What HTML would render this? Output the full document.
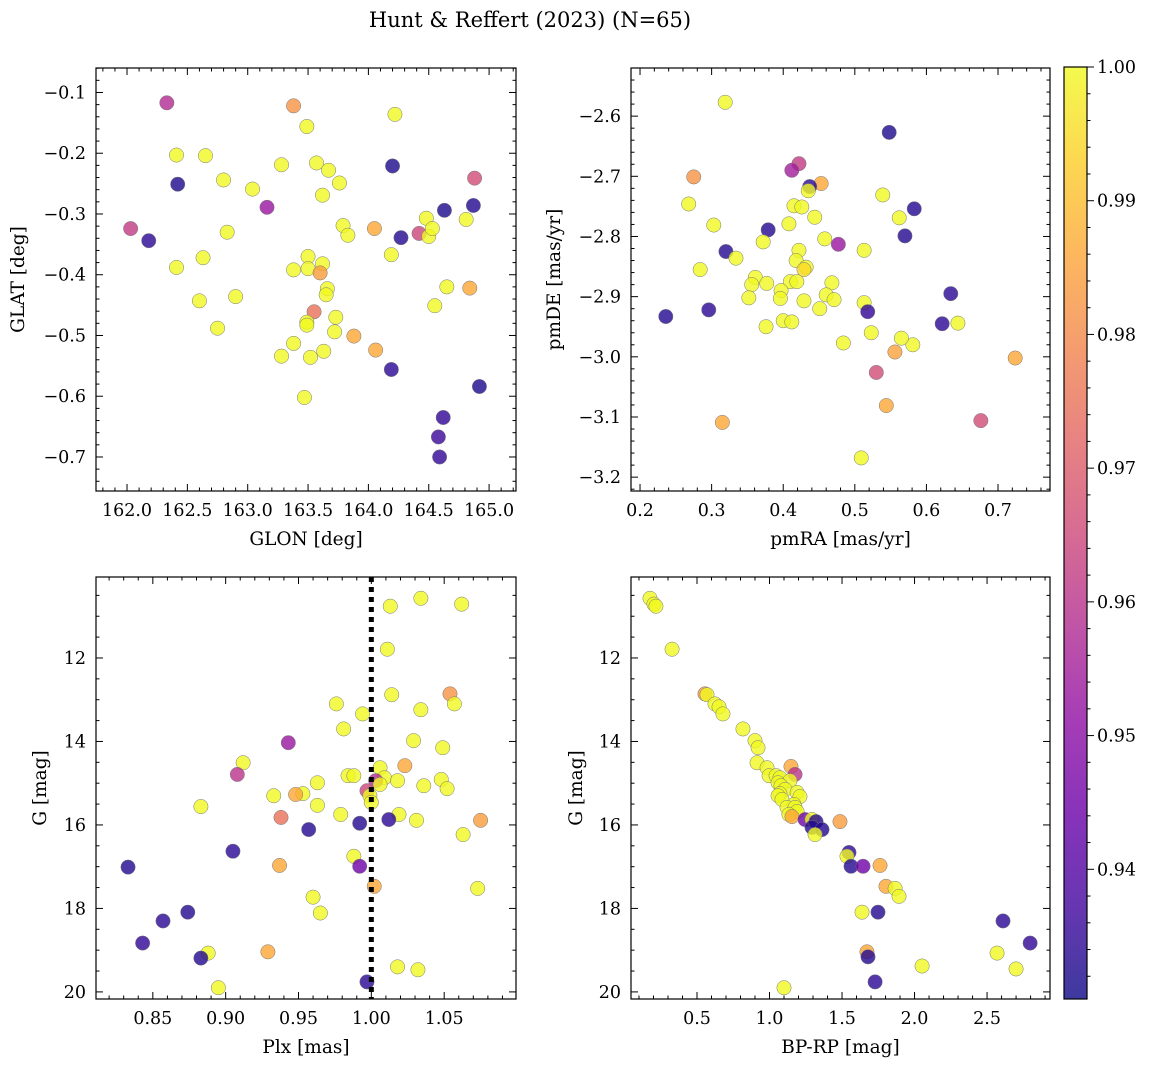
<!DOCTYPE html>
<html><head><meta charset="utf-8">
<style>
html,body{margin:0;padding:0;background:#fff;}
svg text{font-family:"DejaVu Serif","Liberation Serif",serif;fill:#000;}
</style></head>
<body>
<svg id="chart" width="1149" height="1067" xmlns="http://www.w3.org/2000/svg">
<text x="530" y="27" font-size="21" text-anchor="middle">Hunt &amp; Reffert (2023) (N=65)</text>
</svg>
<script>
// ---- Panel 1: GLON vs GLAT ----
const p1Glon=[162.33,163.38,164.22,163.49,162.41,162.65,162.42,163.28,163.57,163.67,164.20,162.80,163.04,163.76,164.88,163.62,163.16,164.63,164.87,164.48,164.81,162.03,162.18,162.83,163.79,163.83,164.05,164.27,164.42,164.50,164.53,162.63,162.41,163.50,163.62,163.50,163.38,163.60,164.19,163.66,163.65,164.84,164.65,162.90,162.60,164.55,163.55,163.73,163.49,163.49,162.75,163.72,163.88,163.38,163.28,163.52,163.63,164.06,164.19,164.92,163.47,164.62,164.58,164.59];
const p1Glat=[-0.117,-0.122,-0.136,-0.156,-0.203,-0.204,-0.251,-0.219,-0.216,-0.228,-0.221,-0.244,-0.259,-0.249,-0.241,-0.269,-0.289,-0.294,-0.286,-0.307,-0.309,-0.324,-0.344,-0.330,-0.319,-0.335,-0.324,-0.339,-0.332,-0.337,-0.324,-0.372,-0.388,-0.370,-0.382,-0.390,-0.392,-0.397,-0.367,-0.423,-0.433,-0.422,-0.420,-0.436,-0.443,-0.451,-0.461,-0.470,-0.478,-0.483,-0.488,-0.494,-0.501,-0.513,-0.534,-0.536,-0.526,-0.524,-0.556,-0.584,-0.602,-0.635,-0.667,-0.700];
const p1Prob=[0.958,0.982,1,1,1,1,0.932,1,1,1,0.932,1,1,1,0.966,1,0.953,0.932,0.933,1,1,0.962,0.934,1,1,1,0.986,0.933,0.965,1,1,1,1,1,1,1,1,0.984,1,1,1,0.986,1,1,1,1,0.975,1,1,1,1,1,0.986,1,1,1,1,0.986,0.934,0.932,1,0.935,0.936,0.935];
// ---- Panel 2: pmRA vs pmDE ----
const p2Pmra=[0.319,0.548,0.422,0.412,0.275,0.268,0.453,0.437,0.435,0.415,0.426,0.539,0.583,0.303,0.379,0.408,0.444,0.562,0.570,0.372,0.458,0.477,0.320,0.422,0.513,0.334,0.418,0.432,0.429,0.284,0.361,0.356,0.410,0.419,0.468,0.377,0.397,0.352,0.396,0.429,0.460,0.471,0.634,0.236,0.296,0.451,0.513,0.518,0.400,0.412,0.376,0.644,0.622,0.523,0.484,0.581,0.565,0.556,0.724,0.530,0.544,0.676,0.315,0.509];
const p2Pmde=[-2.577,-2.627,-2.679,-2.690,-2.701,-2.746,-2.712,-2.717,-2.724,-2.749,-2.751,-2.731,-2.754,-2.781,-2.789,-2.779,-2.768,-2.769,-2.799,-2.809,-2.804,-2.813,-2.825,-2.823,-2.823,-2.836,-2.840,-2.851,-2.855,-2.855,-2.868,-2.880,-2.875,-2.875,-2.877,-2.878,-2.890,-2.902,-2.903,-2.907,-2.897,-2.905,-2.895,-2.933,-2.922,-2.920,-2.910,-2.925,-2.940,-2.942,-2.950,-2.944,-2.945,-2.960,-2.977,-2.980,-2.969,-2.992,-3.002,-3.026,-3.081,-3.106,-3.109,-3.168];
const p2Prob=[1,0.932,0.962,0.955,0.982,1,0.986,0.934,1,1,1,1,0.933,1,0.933,1,1,1,0.933,1,1,0.953,0.933,1,1,1,1,1,0.995,1,1,1,1,1,1,1,1,1,1,1,1,1,0.934,0.933,0.934,1,1,0.935,1,1,1,1,0.934,1,1,1,1,0.985,0.986,0.966,0.986,0.966,0.986,1];
// ---- Panel 3: Plx vs G ----
const p3Plx=[1.034,1.013,1.062,1.011,1.054,1.014,1.057,0.976,1.034,0.994,0.981,1.029,0.943,1.049,0.912,1.006,1.023,0.908,0.984,0.988,1.009,1.003,1.018,0.963,1.036,1.006,1.048,1.052,0.953,0.948,0.933,0.997,0.999,1.000,0.963,0.883,0.979,1.019,0.938,1.012,1.031,1.075,0.992,0.957,1.063,0.905,0.988,0.937,0.833,0.992,1.073,1.002,0.960,0.965,0.874,0.857,0.843,0.888,0.929,0.883,1.018,1.032,0.895,0.997];
const p3G=[10.57,10.76,10.71,11.79,12.86,12.88,13.10,13.10,13.24,13.34,13.70,13.98,14.03,14.15,14.51,14.63,14.58,14.79,14.82,14.82,14.87,14.94,14.94,14.99,15.06,15.03,14.91,15.13,15.25,15.27,15.30,15.18,15.30,15.46,15.53,15.56,15.75,15.75,15.82,15.87,15.89,15.89,15.96,16.11,16.23,16.63,16.75,16.97,17.01,16.99,17.52,17.47,17.73,18.11,18.09,18.30,18.83,19.07,19.04,19.19,19.40,19.47,19.90,19.76];
const p3Prob=[1,1,1,1,0.982,1,1,1,1,1,1,1,0.953,1,1,1,0.986,0.960,1,1,1,0.958,1,1,1,1,1,1,1,0.986,1,0.965,1,1,1,1,1,1,0.975,0.934,1,0.984,0.933,0.933,1,0.934,1,0.986,0.933,0.945,1,0.986,1,1,0.933,0.934,0.935,1,0.986,0.933,1,1,1,0.934];
// ---- Panel 4: BP-RP vs G ----
const p4Bprp=[0.176,0.203,0.217,0.328,0.555,0.569,0.624,0.652,0.679,0.817,0.900,0.921,0.914,0.983,1.148,1.176,0.997,1.045,1.072,1.141,1.059,1.079,1.107,1.190,1.072,1.059,1.210,1.086,1.169,1.121,1.176,1.190,1.134,1.155,1.245,1.293,1.321,1.293,1.362,1.314,1.486,1.548,1.534,1.562,1.645,1.762,1.803,1.866,1.893,1.638,1.748,2.610,2.797,2.569,1.672,1.679,2.052,2.700,1.728,1.100];
const p4G=[10.57,10.71,10.76,11.79,12.86,12.88,13.10,13.17,13.34,13.70,13.98,14.15,14.51,14.63,14.60,14.79,14.82,14.82,14.87,14.94,14.99,15.06,15.15,15.22,15.25,15.30,15.32,15.39,15.51,15.58,15.58,15.68,15.75,15.80,15.87,15.87,15.92,16.06,16.11,16.23,15.92,16.66,16.75,16.99,16.99,16.97,17.47,17.52,17.71,18.09,18.09,18.30,18.83,19.07,19.04,19.16,19.38,19.45,19.76,19.90];
const p4Prob=[1,1,1,1,0.982,1,1,1,1,1,1,1,1,1,0.986,0.960,1,1,1,1,1,1,1,1,1,1,1,1,1,1,1,1,1,0.986,0.945,1,0.933,0.933,0.933,1,0.984,0.934,1,0.933,0.945,0.986,0.986,1,1,1,0.933,0.934,0.935,1,0.986,0.933,1,1,0.934,1];
// ---- tick labels ----
const p1XTicks=[162.0,162.5,163.0,163.5,164.0,164.5,165.0];
const p1YTicks=[-0.1,-0.2,-0.3,-0.4,-0.5,-0.6,-0.7];
const p2XTicks=[0.2,0.3,0.4,0.5,0.6,0.7];
const p2YTicks=[-2.6,-2.7,-2.8,-2.9,-3.0,-3.1,-3.2];
const p3XTicks=[0.85,0.90,0.95,1.00,1.05];
const gTicks=[12,14,16,18,20];
const p4XTicks=[0.5,1.0,1.5,2.0,2.5];
const cbTicks=[0.94,0.95,0.96,0.97,0.98,0.99,1.00];
const plxRef=[1.0];

const NS="http://www.w3.org/2000/svg";
const svg=document.getElementById('chart');
const TFS=17.5, LFS=18.5;
function mk(tag,attrs,parent){const e=document.createElementNS(NS,tag);for(const k in attrs)e.setAttribute(k,attrs[k]);(parent||svg).appendChild(e);return e;}
const stops=["#0d0887","#41049d","#6a00a8","#8f0da4","#b12a90","#cc4778","#e16462","#f2844b","#fca636","#fcce25","#f0f921"];
const VMIN=0.9303,VMAX=1.0;
function plasma(v){let t=(v-VMIN)/(VMAX-VMIN);t=Math.max(0,Math.min(1,t));const f=t*10,i=Math.min(9,Math.floor(f)),r=f-i;
 const a=stops[i],b=stops[i+1];const c=[1,3,5].map(k=>Math.round(parseInt(a.substr(k,2),16)*(1-r)+parseInt(b.substr(k,2),16)*r));return `rgb(${c[0]},${c[1]},${c[2]})`;}
function fmt(v,d){return (v<0?"\u2212":"")+Math.abs(v).toFixed(d);}

function panel(o){
 const g=mk('g',{});
 
 
 const sx=v=>o.L+(v-o.x0)/(o.x1-o.x0)*(o.R-o.L);
 const sy=v=>o.T+(v-o.y0)/(o.y1-o.y0)*(o.B-o.T);
 const pg=mk('g',{},g);
 
 
 o.xs.forEach((xv,i)=>{
  const c=mk('circle',{cx:sx(xv),cy:sy(o.ys[i]),r:7.2,fill:plasma(o.cs[i]),'fill-opacity':0.8,stroke:'#777','stroke-width':0.5},pg);
  
  
 });
 if(o.extra)o.extra(g,sx,sy);
 const f=mk('rect',{x:o.L,y:o.T,width:o.R-o.L,height:o.B-o.T,fill:'none',stroke:'#000','stroke-width':1.2},g);
 
 
 const tg=mk('g',{stroke:'#000','stroke-width':1},g);
 const xlo=Math.min(o.x0,o.x1),xhi=Math.max(o.x0,o.x1),ylo=Math.min(o.y0,o.y1),yhi=Math.max(o.y0,o.y1);
 for(let k=Math.ceil(xlo/o.xm-1e-6);k*o.xm<=xhi+1e-9;k++){const v=k*o.xm,x=sx(v);const maj=Math.abs(v/o.xM-Math.round(v/o.xM))<1e-6;const len=maj?7:3.5;
  mk('line',{x1:x,x2:x,y1:o.B,y2:o.B-len},tg);mk('line',{x1:x,x2:x,y1:o.T,y2:o.T+len},tg);}
 for(let k=Math.ceil(ylo/o.ym-1e-6);k*o.ym<=yhi+1e-9;k++){const v=k*o.ym,y=sy(v);const maj=Math.abs(v/o.yM-Math.round(v/o.yM))<1e-6;const len=maj?7:3.5;
  mk('line',{x1:o.L,x2:o.L+len,y1:y,y2:y},tg);mk('line',{x1:o.R,x2:o.R-len,y1:y,y2:y},tg);}
 o.xt.forEach(v=>{const t=mk('text',{x:sx(v),y:o.B+25,'font-size':TFS,'text-anchor':'middle'},g);t.textContent=fmt(v,o.xd);
  });
 o.yt.forEach(v=>{const t=mk('text',{x:o.L-10,y:sy(v)+6,'font-size':TFS,'text-anchor':'end'},g);t.textContent=fmt(v,o.yd);
  });
 const xl=mk('text',{x:(o.L+o.R)/2,y:o.B+54,'font-size':LFS,'text-anchor':'middle'},g);xl.textContent=o.xlab;
 
 const yl=mk('text',{x:0,y:0,'font-size':LFS,'text-anchor':'middle',transform:`translate(${o.ylx},${(o.T+o.B)/2}) rotate(-90)`},g);yl.textContent=o.ylab;
 
}
panel({name:'glon-glat-panel',L:96,R:516,T:68,B:491,x0:161.743,x1:165.223,y0:-0.0597,y1:-0.756,xs:p1Glon,ys:p1Glat,cs:p1Prob,
 xm:0.1,xM:0.5,ym:0.02,yM:0.1,xt:p1XTicks,yt:p1YTicks,xd:1,yd:1,xlab:'GLON [deg]',ylab:'GLAT [deg]',ylx:24});
panel({name:'proper-motion-panel',L:631,R:1050,T:68,B:491,x0:0.1874,x1:0.7726,y0:-2.520,y1:-3.223,xs:p2Pmra,ys:p2Pmde,cs:p2Prob,
 xm:0.02,xM:0.1,ym:0.02,yM:0.1,xt:p2XTicks,yt:p2YTicks,xd:1,yd:1,xlab:'pmRA [mas/yr]',ylab:'pmDE [mas/yr]',ylx:560});
panel({name:'parallax-mag-panel',L:96,R:516,T:577,B:999,x0:0.811,x1:1.0993,y0:10.06,y1:20.17,xs:p3Plx,ys:p3G,cs:p3Prob,
 xm:0.01,xM:0.05,ym:0.5,yM:2,xt:p3XTicks,yt:gTicks,xd:2,yd:0,xlab:'Plx [mas]',ylab:'G [mag]',ylx:46,
 extra:(g,sx,sy)=>{plxRef.forEach(v=>{const l=mk('line',{x1:sx(v),x2:sx(v),y1:577,y2:999,stroke:'#000','stroke-width':5,'stroke-dasharray':'5,5'},g);
  });}});
panel({name:'cmd-panel',L:631,R:1050,T:577,B:999,x0:0.045,x1:2.934,y0:10.06,y1:20.17,xs:p4Bprp,ys:p4G,cs:p4Prob,
 xm:0.1,xM:0.5,ym:0.5,yM:2,xt:p4XTicks,yt:gTicks,xd:1,yd:0,xlab:'BP-RP [mag]',ylab:'G [mag]',ylx:582});

(function(){
 const L=1064,R=1087,T=67,B=999;
 const g=mk('g',{});
 
 
 const defs=mk('defs',{},g);
 const lg=mk('linearGradient',{id:'cbg',x1:0,y1:1,x2:0,y2:0},defs);
 stops.forEach((s,i)=>mk('stop',{offset:i/10,'stop-color':s,'stop-opacity':0.8},lg));
 mk('rect',{x:L,y:T,width:R-L,height:B-T,fill:'url(#cbg)',stroke:'#000','stroke-width':1.2},g);
 const sy=v=>B-(v-VMIN)/(VMAX-VMIN)*(B-T);
 for(let k=Math.ceil(VMIN/0.002);k*0.002<=VMAX+1e-9;k++){const v=k*0.002,y=sy(v);const maj=Math.abs(v*100-Math.round(v*100))<1e-6;
  mk('line',{x1:R,x2:R+(maj?7:3.5),y1:y,y2:y,stroke:'#000','stroke-width':1},g);}
 cbTicks.forEach(v=>{const t=mk('text',{x:R+10,y:sy(v)+6,'font-size':TFS},g);t.textContent=v.toFixed(2);
  });
})();
</script>
</body></html>
